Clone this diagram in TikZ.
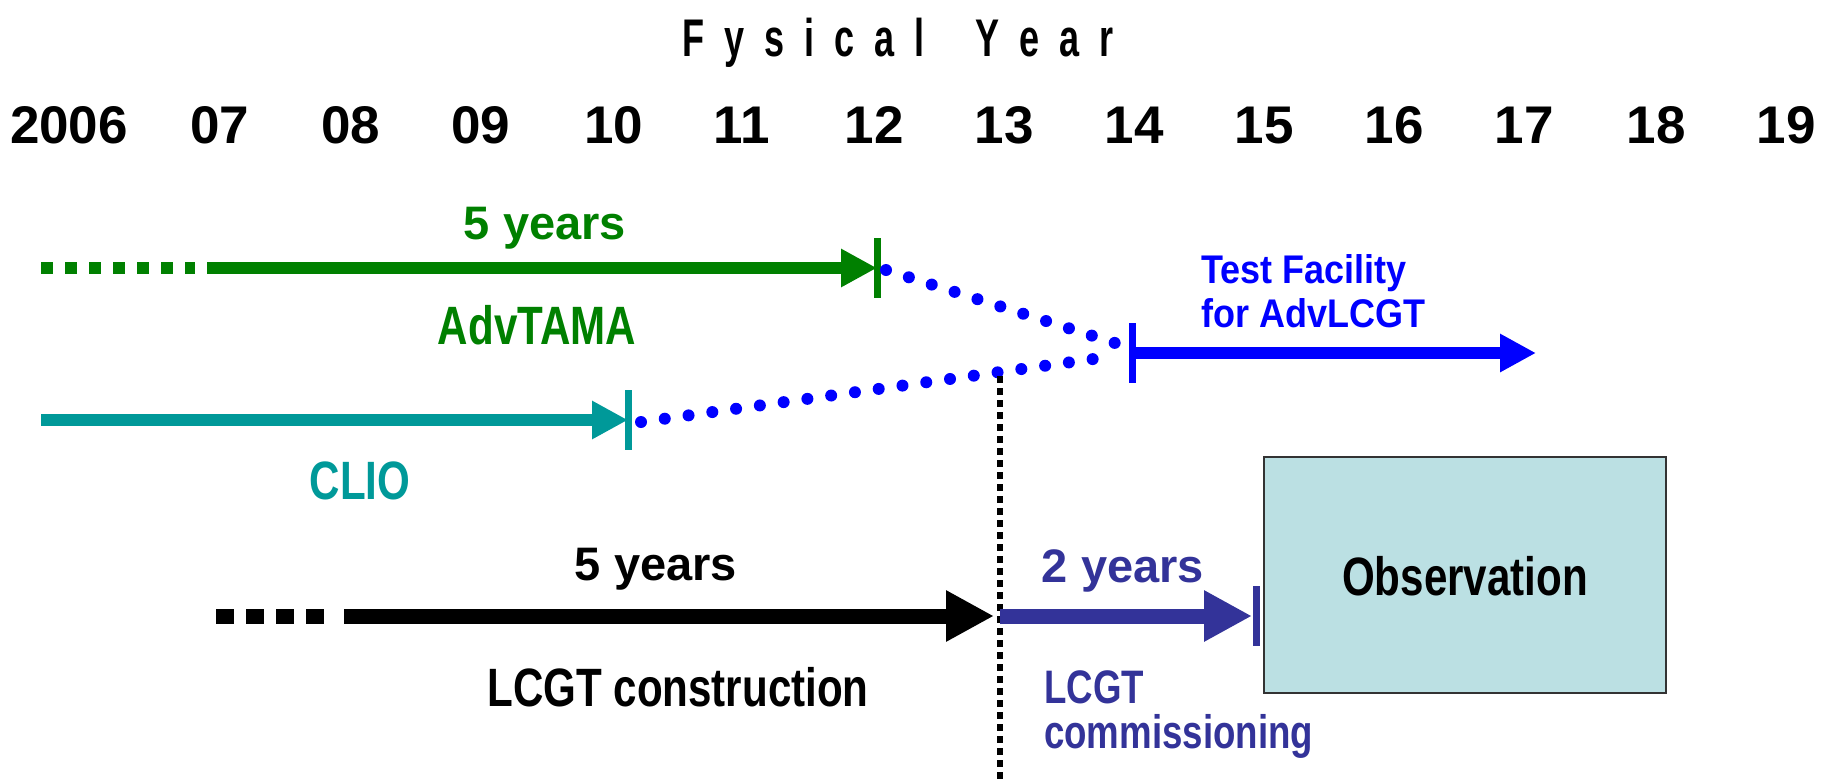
\documentclass[tikz,border=0pt]{standalone}
\usepackage{fontspec}
\setmainfont{Liberation Sans}
\newfontfamily\condfont{Liberation Sans}[FakeStretch=0.78]
\newfontfamily\semifont{Liberation Sans}[FakeStretch=0.9]
\newfontfamily\titlefont{Liberation Sans}[FakeStretch=0.68]
\usetikzlibrary{arrows.meta}
\definecolor{cgreen}{RGB}{0,128,0}
\definecolor{cteal}{RGB}{0,153,153}
\definecolor{cblue}{RGB}{0,0,255}
\definecolor{cdblue}{RGB}{51,51,153}
\definecolor{obsfill}{RGB}{187,224,227}
\definecolor{obsdraw}{RGB}{51,51,51}
\newcommand\tgap{\hspace{20pt}}
\begin{document}
\begin{tikzpicture}[x=1pt,y=-1pt,
  yearlbl/.style={font=\fontsize{53}{60}\selectfont\bfseries, anchor=base, inner sep=0pt},
  normtxt/.style={font=\fontsize{47}{54}\selectfont\bfseries, anchor=base, inner sep=0pt},
  condtxt/.style={font=\condfont\fontsize{54}{60}\selectfont\bfseries, anchor=base, inner sep=0pt},
  titletxt/.style={font=\titlefont\fontsize{53}{60}\selectfont\bfseries, anchor=base, inner sep=0pt},
  tftxt/.style={font=\semifont\fontsize{40}{44}\selectfont\bfseries, inner sep=0pt, align=left},
  comtxt/.style={font=\condfont\fontsize{47}{45}\selectfont\bfseries, inner sep=0pt, align=left},
  tickbar/.style={rectangle, minimum width=7pt, minimum height=60pt, inner sep=0pt},
  thinarrow/.style={line width=12pt, -{Triangle[length=36pt,width=36pt]}},
  thickarrow/.style={line width=15pt, -{Triangle[length=48pt,width=48pt]}},
  bluedots/.style={cblue, line width=12pt, line cap=round, dash pattern=on 0pt off 24pt},
]
\useasboundingbox (0,0) rectangle (1829,780);

% title and years
\node[titletxt] (title) at (898,56) {F\tgap y\tgap s\tgap i\tgap c\tgap a\tgap l\hspace{50pt}Y\tgap e\tgap a\tgap r};
\node[yearlbl] (y2006) at (69,143) {2006};
\node[yearlbl] (y07) at (220,143) {07};
\node[yearlbl] (y08) at (351,143) {08};
\node[yearlbl] (y09) at (481,143) {09};
\node[yearlbl] (y10) at (614,143) {10};
\node[yearlbl] (y11) at (742,143) {11};
\node[yearlbl] (y12) at (874,143) {12};
\node[yearlbl] (y13) at (1004,143) {13};
\node[yearlbl] (y14) at (1134,143) {14};
\node[yearlbl] (y15) at (1264,143) {15};
\node[yearlbl] (y16) at (1394,143) {16};
\node[yearlbl] (y17) at (1524,143) {17};
\node[yearlbl] (y18) at (1656,143) {18};
\node[yearlbl] (y19) at (1786,143) {19};

% AdvTAMA
\node[tickbar, fill=cgreen] (t12) at (877,268) {};
\coordinate (g0) at (41,268);
\coordinate (g1) at (195,268);
\coordinate (g2) at (207,268);
\draw[cgreen, line width=12pt, dash pattern=on 12pt off 12pt] (g0) -- (g1);
\draw[cgreen, thinarrow] (g2) -- (t12.center);
\node[normtxt, text=cgreen] (l5a) at (545,239) {5 years};
\node[condtxt, text=cgreen] (ltama) at (537,344) {AdvTAMA};

% CLIO
\node[tickbar, fill=cteal] (t10) at (628,420) {};
\coordinate (c0) at (41,420);
\draw[cteal, thinarrow] (c0) -- (t10.center);
\node[condtxt, text=cteal] (lclio) at (360,499) {CLIO};

% Test facility
\node[tickbar, fill=cblue] (t14) at (1132,353) {};
\coordinate (b1) at (1536,353);
\draw[cblue, thinarrow] (t14.center) -- (b1);
\node[tftxt, text=cblue, anchor=base west] (ltf) at (1201,327) {Test Facility\\for AdvLCGT};
\draw[bluedots] ([xshift=9pt,yshift=-2pt]t12.center) -- ([xshift=-17pt,yshift=10pt]t14.center);
\draw[bluedots] ([xshift=13pt,yshift=-2pt]t10.center) -- ([xshift=-17pt,yshift=-3pt]t14.center);

% dotted line at 13
\coordinate (v0) at (1000,376);
\coordinate (v1) at (1000,780);
\draw[black, line width=6pt, dash pattern=on 7pt off 5pt] (v0) -- (v1);

% LCGT construction
\coordinate (m13) at (1000,616);
\coordinate (k0) at (216,616);
\coordinate (k1) at (324,616);
\coordinate (k2) at (344,616);
\draw[black, line width=15pt, dash pattern=on 18pt off 12pt] (k0) -- (k1);
\draw[black, thickarrow, shorten >=6pt] (k2) -- (m13);
\node[normtxt] (l5b) at (656,580) {5 years};
\node[condtxt] (lcon) at (678,706) {LCGT construction};

% commissioning
\node[tickbar, fill=cdblue] (t15) at (1256,616) {};
\draw[cdblue, thickarrow, shorten >=4pt] (m13) -- (t15.center);
\node[normtxt, text=cdblue] (l2) at (1123,582) {2 years};
\node[comtxt, text=cdblue, anchor=base west] (lcom) at (1044,748) {LCGT\\commissioning};

% observation
\node[rectangle, draw=obsdraw, line width=2pt, fill=obsfill, minimum width=402pt, minimum height=236pt, inner sep=0pt] (obs) at (1465,575) {};
\node[condtxt] (lobs) at (1465,595) {Observation};
\end{tikzpicture}
\end{document}
